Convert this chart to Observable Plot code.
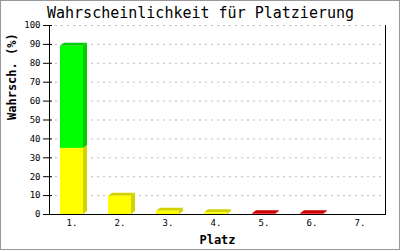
<!DOCTYPE html>
<html>
<head>
<meta charset="utf-8">
<script src="https://cdn.jsdelivr.net/npm/d3@7"></script>
<script src="https://cdn.jsdelivr.net/npm/@observablehq/plot@0.6"></script>
<style>
  html, body { margin: 0; padding: 0; background: #fff; }
  svg { display: block; outline: 1px solid #999; outline-offset: -1px; }
</style>
</head>
<body>
<div id="chart"></div>
<script>
const places = ["1.", "2.", "3.", "4.", "5.", "6.", "7."];
const yellowVals = [35, 9.7, 1.7, 0.9, 0, 0, 0];
const greenVals = [54, 0, 0, 0, 0, 0, 0];
const redVals = [0, 0, 0, 0, 0.35, 0.35, 0];
const yTicks = [0, 10, 20, 30, 40, 50, 60, 70, 80, 90, 100];
const titleText = "Wahrscheinlichkeit für Platzierung";
const yLabel = "Wahrsch. (%)";
const xLabel = "Platz";

const rows = places.map((p, i) => ({
  place: p,
  yellow: yellowVals[i],
  green: greenVals[i],
  red: redVals[i]
}));

const DX = 4, DY = 3;
function bar3d(dark) {
  return function (index, scales, values, dimensions, context, next) {
    const g = next(index, scales, values, dimensions, context);
    const ns = "http://www.w3.org/2000/svg";
    g.querySelectorAll("rect").forEach((r) => {
      const x = +r.getAttribute("x"), y = +r.getAttribute("y");
      const w = +r.getAttribute("width"), h = +r.getAttribute("height");
      const top = document.createElementNS(ns, "polygon");
      top.setAttribute("points", `${x},${y} ${x + DX},${y - DY} ${x + w + DX},${y - DY} ${x + w},${y}`);
      top.setAttribute("fill", dark);
      const side = document.createElementNS(ns, "polygon");
      side.setAttribute("points", `${x + w},${y} ${x + w + DX},${y - DY} ${x + w + DX},${y + h - DY} ${x + w},${y + h}`);
      side.setAttribute("fill", dark);
      r.parentNode.insertBefore(top, r);
      r.parentNode.insertBefore(side, r);
    });
    return g;
  };
}

const mono = "'DejaVu Sans Mono', 'Liberation Mono', monospace";

const chart = Plot.plot({
  width: 400,
  height: 250,
  marginTop: 25,
  marginBottom: 36,
  marginLeft: 49,
  marginRight: 15,
  style: { fontFamily: mono, fontSize: "9px", color: "#000", background: "#fff" },
  x: { domain: places, paddingInner: 0.52, paddingOuter: 0.26, align: 0.44 },
  y: { domain: [0, 100] },
  marks: [
    Plot.gridY(yTicks.filter((d) => d > 0), { stroke: "#bbb", strokeOpacity: 1, strokeDasharray: "2,4" }),
    Plot.barY(rows.filter((d) => d.yellow > 0), {
      x: "place", y1: 0, y2: "yellow", fill: "#ffff00", render: bar3d("#d2d200")
    }),
    Plot.barY(rows.filter((d) => d.green > 0), {
      x: "place", y1: "yellow", y2: (d) => d.yellow + d.green, fill: "#00ff00", render: bar3d("#00cc00")
    }),
    Plot.barY(rows.filter((d) => d.red > 0), {
      x: "place", y1: 0, y2: "red", fill: "#ff0000", render: bar3d("#cc0000")
    }),
    Plot.axisY({ ticks: yTicks, tickSize: 9, dx: 3, tickPadding: 3, label: null, fontSize: 9 }),
    Plot.axisX({ tickSize: 0, tickPadding: 5, label: null, fontSize: 9 }),
    Plot.frame({ anchor: "left", stroke: "#000" }),
    Plot.frame({ anchor: "right", stroke: "#000" }),
    Plot.frame({ anchor: "bottom", stroke: "#000" }),
    Plot.text([titleText], {
      frameAnchor: "top", text: (d) => d, dx: -17, dy: -8, lineAnchor: "bottom",
      fontSize: 15, fill: "#000"
    }),
    Plot.text([xLabel], {
      frameAnchor: "bottom", text: (d) => d, dy: 29, lineAnchor: "bottom",
      fontSize: 12, fontWeight: "bold", fill: "#000"
    }),
    Plot.text([yLabel], {
      frameAnchor: "left", text: (d) => d, dx: -37, rotate: -90,
      fontSize: 12, fontWeight: "bold", fill: "#000"
    })
  ]
});

document.getElementById("chart").appendChild(chart);
</script>
</body>
</html>
